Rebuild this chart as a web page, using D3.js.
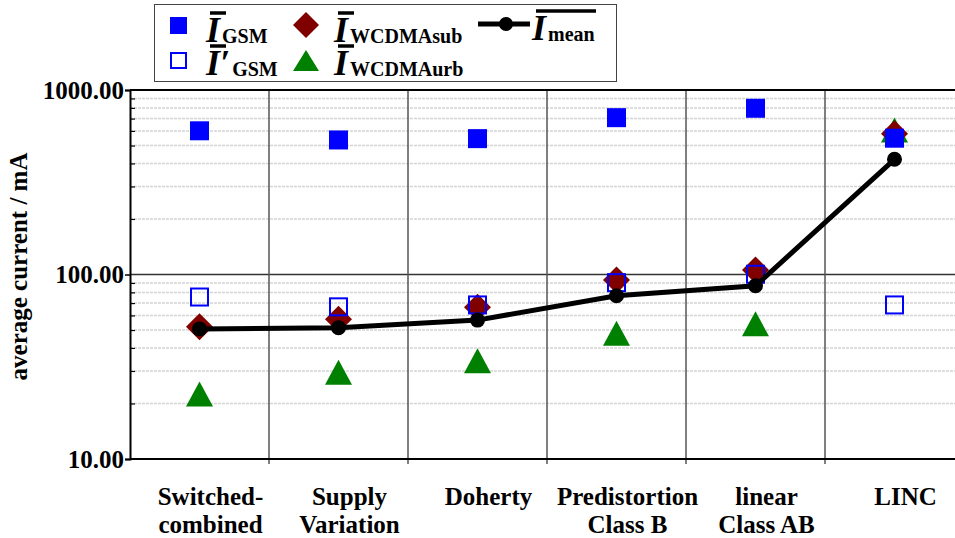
<!DOCTYPE html>
<html>
<head>
<meta charset="utf-8">
<script src="https://cdn.jsdelivr.net/npm/d3@7"></script>
<style>
  body { margin: 0; background: #fff; overflow: hidden; }
</style>
</head>
<body>
<div id="wrapper"></div>
<script>
// data
const categories = ["Switched-combined", "Supply Variation", "Doherty", "Predistortion Class B", "linear Class AB", "LINC"];
const categoryLines = [["Switched-", "combined"], ["Supply", "Variation"], ["Doherty"], ["Predistortion", "Class B"], ["linear", "Class AB"], ["LINC"]];
const gsm = [601, 536, 545, 708, 796, 548];
const gsmPrime = [75.5, 66.8, 68.4, 90.3, 100.3, 68.4];
const wcdmaSub = [52.1, 57.2, 66.4, 93.3, 105.7, 580];
const wcdmaUrb = [22.5, 29.5, 34.1, 48, 54, 607];
const meanCurrent = [50.7, 51.5, 56.6, 76.7, 86.9, 421];
const majorTicks = [10, 100, 1000];
const minorTicks = [20, 30, 40, 50, 60, 70, 80, 90, 200, 300, 400, 500, 600, 700, 800, 900];

const FONT = '"Liberation Serif", "Times New Roman", serif';
const width = 955, height = 538;
const plot = { left: 130, right: 964, top: 90, bottom: 459 };

const svg = d3.select('#wrapper').append('svg')
  .attr('width', width)
  .attr('height', height)
  .style('font-family', FONT)
  .style('font-weight', 'bold');

const xScale = d3.scaleBand()
  .domain(categories)
  .range([plot.left, plot.right]);
const xMid = d => xScale(d) + xScale.bandwidth() / 2;

const yScale = d3.scaleLog()
  .domain([10, 1000])
  .range([plot.bottom, plot.top]);

// grid
svg.append('g').selectAll('line')
  .data(minorTicks)
  .join('line')
  .attr('x1', plot.left).attr('x2', width)
  .attr('y1', d => yScale(d)).attr('y2', d => yScale(d))
  .attr('stroke', '#d4d4d4')
  .attr('stroke-width', 1.5)
  .attr('stroke-dasharray', '3,1');

svg.append('line')
  .attr('x1', plot.left).attr('x2', width)
  .attr('y1', yScale(100)).attr('y2', yScale(100))
  .attr('stroke', '#333').attr('stroke-width', 1.3);

svg.append('g').selectAll('line')
  .data(categories.slice(1))
  .join('line')
  .attr('x1', d => xScale(d)).attr('x2', d => xScale(d))
  .attr('y1', plot.top).attr('y2', plot.bottom + 5)
  .attr('stroke', '#555')
  .attr('stroke-width', 1.5);

// frame
svg.append('line')
  .attr('x1', plot.left).attr('x2', width)
  .attr('y1', plot.top).attr('y2', plot.top)
  .attr('stroke', '#000').attr('stroke-width', 2);
svg.append('line')
  .attr('x1', plot.left).attr('x2', width)
  .attr('y1', plot.bottom).attr('y2', plot.bottom)
  .attr('stroke', '#000').attr('stroke-width', 2);

// y axis
const yAxis = svg.append('g')
  .attr('transform', `translate(${plot.left},0)`)
  .call(d3.axisLeft(yScale).tickValues(majorTicks).tickFormat(d3.format('.2f')).tickSize(5).tickPadding(1));
yAxis.select('.domain').attr('stroke-width', 2);
yAxis.selectAll('.tick line').attr('stroke-width', 1.5);
yAxis.selectAll('text')
  .style('font-size', '25px')
  .style('font-family', FONT)
  .style('font-weight', 'bold')
  .attr('fill', '#000');

const yMinor = svg.append('g')
  .attr('transform', `translate(${plot.left},0)`)
  .call(d3.axisRight(yScale).tickValues(minorTicks).tickFormat('').tickSize(5));
yMinor.select('.domain').remove();
yMinor.selectAll('.tick line').attr('stroke-width', 1.2);

svg.append('text')
  .attr('transform', `translate(27,${(plot.top + plot.bottom) / 2 - 8}) rotate(-90)`)
  .attr('text-anchor', 'middle')
  .style('font-size', '25px')
  .text('average current / mA');

// category labels (sit a little right of the band centres, as in the source)
const labelShift = 11;
const catLabels = svg.append('g').selectAll('text')
  .data(categories)
  .join('text')
  .attr('text-anchor', 'middle')
  .style('font-size', '25px')
  .attr('x', d => xMid(d) + labelShift);
catLabels.each(function(d, i) {
  d3.select(this).selectAll('tspan')
    .data(categoryLines[i])
    .join('tspan')
    .attr('x', xMid(d) + labelShift)
    .attr('y', (t, j) => 505 + j * 28)
    .text(t => t);
});

// marks
const marks = svg.append('g');

const triH = 25, triW = 27;
marks.selectAll('.urb')
  .data(categories)
  .join('path')
  .attr('class', 'urb')
  .attr('d', (d, i) => {
    const cx = xMid(d), cy = yScale(wcdmaUrb[i]);
    return `M${cx},${cy - triH / 2}L${cx + triW / 2},${cy + triH / 2}L${cx - triW / 2},${cy + triH / 2}Z`;
  })
  .attr('fill', '#008000');

marks.selectAll('.sub')
  .data(categories)
  .join('path')
  .attr('class', 'sub')
  .attr('d', (d, i) => {
    const cx = xMid(d), cy = yScale(wcdmaSub[i]), r = 13.5;
    return `M${cx},${cy - r}L${cx + r},${cy}L${cx},${cy + r}L${cx - r},${cy}Z`;
  })
  .attr('fill', '#800000');

marks.selectAll('.gsmp')
  .data(categories)
  .join('rect')
  .attr('class', 'gsmp')
  .attr('x', d => xMid(d) - 8.5)
  .attr('y', (d, i) => yScale(gsmPrime[i]) - 8.5)
  .attr('width', 17).attr('height', 17)
  .attr('fill', 'none')
  .attr('stroke', '#0000ff')
  .attr('stroke-width', 2);

marks.selectAll('.gsm')
  .data(categories)
  .join('rect')
  .attr('class', 'gsm')
  .attr('x', d => xMid(d) - 9.5)
  .attr('y', (d, i) => yScale(gsm[i]) - 9.5)
  .attr('width', 19).attr('height', 19)
  .attr('fill', '#0000ff');

const line = d3.line()
  .x((v, i) => xMid(categories[i]))
  .y(v => yScale(v));
marks.append('path')
  .datum(meanCurrent)
  .attr('d', line)
  .attr('fill', 'none')
  .attr('stroke', '#000')
  .attr('stroke-width', 5);
marks.selectAll('.mean')
  .data(categories)
  .join('circle')
  .attr('class', 'mean')
  .attr('cx', d => xMid(d))
  .attr('cy', (d, i) => yScale(meanCurrent[i]))
  .attr('r', 7.5)
  .attr('fill', '#000');

// legend
const legend = svg.append('g');
legend.append('rect')
  .attr('x', 154.5).attr('y', 4.5)
  .attr('width', 462).attr('height', 77)
  .attr('fill', '#fff')
  .attr('stroke', '#444')
  .attr('stroke-width', 1);

legend.append('rect').attr('x', 170).attr('y', 17).attr('width', 17).attr('height', 17).attr('fill', '#0000ff');
legend.append('rect').attr('x', 171).attr('y', 53).attr('width', 15).attr('height', 15)
  .attr('fill', 'none').attr('stroke', '#0000ff').attr('stroke-width', 2);
legend.append('path').attr('d', 'M306,12L319,25L306,38L293,25Z').attr('fill', '#800000');
legend.append('path').attr('d', 'M306,50L319,71L293,71Z').attr('fill', '#008000');
legend.append('line').attr('x1', 478).attr('x2', 530).attr('y1', 24).attr('y2', 24)
  .attr('stroke', '#000').attr('stroke-width', 5);
legend.append('circle').attr('cx', 506).attr('cy', 24).attr('r', 7).attr('fill', '#000');

function legendLabel(x, y, main, sub, barWidth) {
  const t = legend.append('text').attr('x', x).attr('y', y);
  t.append('tspan').style('font-size', '36px').style('font-style', 'italic').text(main);
  t.append('tspan').style('font-size', '20px').attr('dx', 2).attr('dy', 1).text(sub);
  legend.append('line')
    .attr('x1', x + 4).attr('x2', x + 4 + barWidth)
    .attr('y1', y - 29).attr('y2', y - 29)
    .attr('stroke', '#000').attr('stroke-width', 3.5);
}
legendLabel(206, 42, 'I', 'GSM', 16);
legendLabel(206, 75, 'I\u2032', 'GSM', 16);
legendLabel(334, 42, 'I', 'WCDMAsub', 16);
legendLabel(334, 75, 'I', 'WCDMAurb', 16);
legendLabel(532, 40, 'I', 'mean', 60);
</script>
</body>
</html>
